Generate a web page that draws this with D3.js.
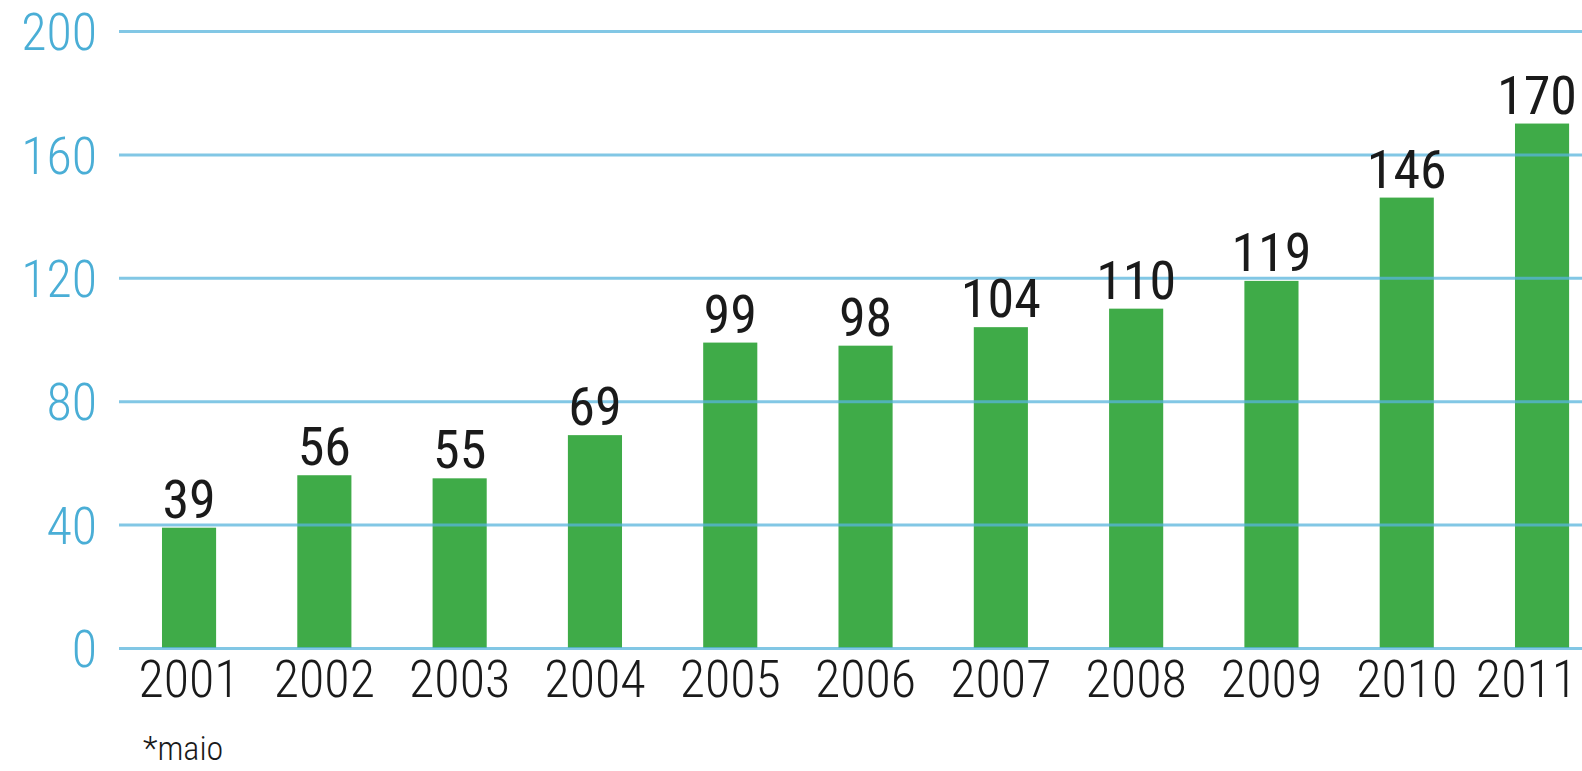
<!DOCTYPE html>
<html>
<head>
<meta charset="utf-8">
<script src="https://cdn.jsdelivr.net/npm/d3@7"></script>
<style>
  body { margin: 0; background: #fff; }
  svg { display: block; }
  text { font-family: "Roboto Condensed", "Liberation Sans Narrow", "DejaVu Sans Condensed", Roboto, sans-serif; font-stretch: condensed; }
</style>
</head>
<body>
<svg></svg>
<script>
var years = ['2001', '2002', '2003', '2004', '2005', '2006', '2007', '2008', '2009', '2010', '2011'];
var values = [39, 56, 55, 69, 99, 98, 104, 110, 119, 146, 170];
var yTicks = [0, 40, 80, 120, 160, 200];
var note = '*maio';

var svgWidth = 1582, svgHeight = 771;

var svg = d3.select('svg')
    .attr('width', svgWidth)
    .attr('height', svgHeight)
    .style('background-color', 'white');

var x = d3.scaleBand()
    .domain(years)
    .range([121.4, 1609.7])
    .paddingInner(0.6)
    .paddingOuter(0.3);

var y = d3.scaleLinear()
    .domain([0, 200])
    .range([648, 31]);

// bars
svg.selectAll('rect.bar')
    .data(values)
    .enter()
    .append('rect')
    .attr('class', 'bar')
    .attr('x', function(d, i) { return x(years[i]); })
    .attr('y', function(d) { return y(d); })
    .attr('width', x.bandwidth())
    .attr('height', function(d) { return y(0) - y(d); })
    .attr('fill', '#3fab48');

// gridlines drawn over the bars
var yAxis = d3.axisLeft(y)
    .tickValues(yTicks)
    .tickSize(-(svgWidth - 119))
    .tickPadding(22);

var gy = svg.append('g')
    .attr('transform', 'translate(119,0)')
    .call(yAxis);

gy.select('.domain').remove();
gy.selectAll('.tick line')
    .attr('stroke', '#58b4dc')
    .attr('stroke-width', 3)
    .attr('stroke-opacity', 0.75);
gy.selectAll('.tick text')
    .attr('fill', '#4aaed6')
    .attr('font-size', '52px')
    .attr('font-weight', 300)
    .attr('dy', '0.36em');

// x labels
var xAxis = d3.axisBottom(x).tickSize(0).tickPadding(12);
var gx = svg.append('g')
    .attr('transform', 'translate(0,' + y(0) + ')')
    .call(xAxis);
gx.select('.domain').remove();
gx.selectAll('.tick text')
    .attr('fill', '#1a1a1a')
    .attr('font-size', '52px')
    .attr('font-weight', 300)
    .attr('dy', '0.71em');

// value labels
svg.selectAll('text.val')
    .data(values)
    .enter()
    .append('text')
    .attr('class', 'val')
    .text(function(d) { return d; })
    .attr('x', function(d, i) { return x(years[i]) + x.bandwidth() / 2; })
    .attr('y', function(d) { return y(d) - 10; })
    .attr('text-anchor', 'middle')
    .attr('fill', '#1a1a1a')
    .attr('font-size', '54px');

// keep labels at the right edge inside the picture
function keepInside(sel) {
    sel.each(function() {
        var b = this.getBBox();
        var m = this.getScreenCTM();
        var right = m.e + b.x + b.width;
        if (right > svgWidth - 5) {
            var shift = right - (svgWidth - 5);
            var cur = +d3.select(this).attr('x') || 0;
            d3.select(this).attr('x', cur - shift);
        }
    });
}
keepInside(gx.selectAll('.tick text'));
keepInside(svg.selectAll('text.val'));

svg.append('text')
    .attr('x', 143)
    .attr('y', 760)
    .attr('fill', '#1a1a1a')
    .attr('font-size', '34px')
    .attr('font-weight', 300)
    .text(note);
</script>
</body>
</html>
